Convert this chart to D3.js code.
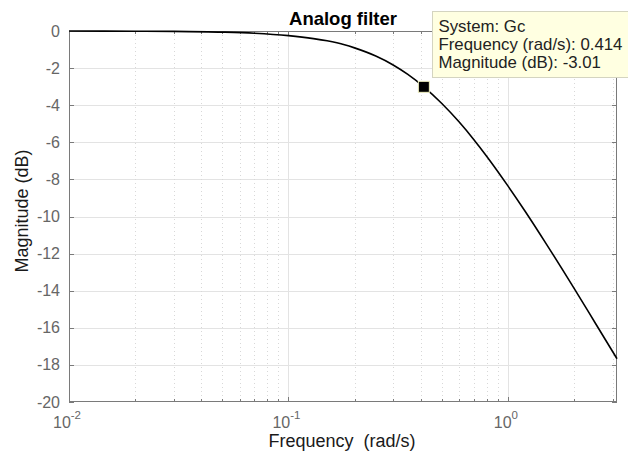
<!DOCTYPE html>
<html><head><meta charset="utf-8">
<script src="https://cdn.jsdelivr.net/npm/d3@7"></script>
<style>body{margin:0;background:#fff}svg{display:block}text{font-family:"Liberation Sans",Arial,sans-serif}</style>
</head><body><svg id="c" width="628" height="454"></svg>
<script>
// Data
const freq = [0.01,0.02,0.03,0.05,0.07,0.1,0.13,0.15,0.18,0.2,0.25,0.3,0.35,0.414,0.5,0.6,0.7,0.8,1.0,1.2,1.5,2.0,2.5,3.1416];
const magDb = [0,-0.01,-0.02,-0.06,-0.12,-0.25,-0.41,-0.53,-0.74,-0.91,-1.35,-1.83,-2.34,-3.01,-3.91,-4.91,-5.86,-6.75,-8.35,-9.73,-11.5,-13.86,-15.74,-17.67];
const yTicks = [0,-2,-4,-6,-8,-10,-12,-14,-16,-18,-20];
const xMajor = [0.01,0.1,1];
const xMajorExp = ["-2","-1","0"];
const tip = {f:0.414, m:-3.01, lines:["System: Gc","Frequency (rad/s): 0.414","Magnitude (dB): -3.01"]};
const title = "Analog filter", xLabel = "Frequency  (rad/s)", yLabel = "Magnitude (dB)";

const L=69,R=617,T=31,B=402;
const svg=d3.select("#c");
const x=d3.scaleLog().domain([0.01,Math.PI]).range([L,R]);
const y=d3.scaleLinear().domain([-20,0]).range([B,T]);

const minor=[];
for(const d of [0.01,0.1,1]) for(let k=2;k<=9;k++){const v=d*k; if(v<=Math.PI) minor.push(v);}

const g=svg.append("g");
g.selectAll(".ym").data(yTicks.filter(v=>v!==0&&v!==-20)).join("line")
 .attr("x1",L).attr("x2",R).attr("y1",d=>Math.round(y(d))+0.5).attr("y2",d=>Math.round(y(d))+0.5)
 .attr("stroke","#e3e3e3").attr("stroke-width",1);
g.selectAll(".xm").data(xMajor.filter(v=>v>0.01)).join("line")
 .attr("y1",T).attr("y2",B).attr("x1",d=>Math.round(x(d))+0.5).attr("x2",d=>Math.round(x(d))+0.5)
 .attr("stroke","#e3e3e3").attr("stroke-width",1);
g.selectAll(".xn").data(minor).join("line")
 .attr("y1",T).attr("y2",B).attr("x1",d=>Math.round(x(d))+0.5).attr("x2",d=>Math.round(x(d))+0.5)
 .attr("stroke","#d8d8d8").attr("stroke-width",1).attr("stroke-dasharray","1,3");

const axc="#7a7a7a";
g.append("rect").attr("x",L+0.5).attr("y",T+0.5).attr("width",R-L-1).attr("height",B-T-1)
 .attr("fill","none").attr("stroke",axc).attr("stroke-width",1);

const tl=5;
g.selectAll(".yt").data(yTicks).join("path")
 .attr("d",d=>`M${L},${Math.round(y(d))+0.5}h${tl}M${R},${Math.round(y(d))+0.5}h${-tl}`).attr("stroke",axc);
g.selectAll(".xt").data(xMajor).join("path")
 .attr("d",d=>{const p=Math.round(x(d))+0.5;return `M${p},${B}v${-tl}M${p},${T}v${tl}`;}).attr("stroke",axc);
g.selectAll(".xtn").data(minor).join("path")
 .attr("d",d=>{const p=Math.round(x(d))+0.5;return `M${p},${B}v${-3}M${p},${T}v${3}`;}).attr("stroke",axc);

g.selectAll(".yl").data(yTicks).join("text")
 .attr("x",L-9).attr("y",d=>y(d)+5.5).attr("text-anchor","end")
 .attr("font-size",16).attr("fill","#666").text(d=>d);
const xl=g.selectAll(".xl").data(xMajor).join("text")
 .attr("x",d=>x(d)-2).attr("y",B+26).attr("text-anchor","middle").attr("font-size",16).attr("fill","#666");
xl.append("tspan").text("10");
xl.append("tspan").attr("dy",-9).attr("font-size",11.5).text((d,i)=>xMajorExp[i]);

const line=d3.line().x((d,i)=>x(freq[i])).y((d,i)=>y(magDb[i])).curve(d3.curveMonotoneX);
g.append("path").datum(magDb).attr("d",line).attr("fill","none").attr("stroke","#000").attr("stroke-width",1.6);

svg.append("text").attr("x",343).attr("y",25).attr("text-anchor","middle")
 .attr("font-size",18.5).attr("font-weight","bold").attr("fill","#000").text(title);
svg.append("text").attr("x",342).attr("y",447).attr("text-anchor","middle")
 .attr("font-size",18).attr("fill","#1a1a1a").style("white-space","pre").text(xLabel);
svg.append("text").attr("transform",`translate(28,211) rotate(-90)`).attr("text-anchor","middle")
 .attr("font-size",18).attr("fill","#1a1a1a").text(yLabel);

const tx=x(tip.f), ty=y(tip.m);
svg.append("rect").attr("x",432.5).attr("y",11.5).attr("width",200).attr("height",66)
 .attr("fill","#ffffe1").attr("stroke","#d4d4c0");
const tt=svg.selectAll(".tp").data(tip.lines).join("text").attr("x",438.5).attr("y",(d,i)=>31.5+i*18.3)
 .attr("font-size",17).attr("fill","#222").text(d=>d);
// fit the widest line to the reference width (≈184px)
const w=tt.nodes()[1].getComputedTextLength();
const fs=Math.min(17.5,17*184/w);
tt.attr("font-size",fs);
svg.append("rect").attr("x",tx-5.5).attr("y",ty-5.5).attr("width",11).attr("height",11)
 .attr("fill","#000").attr("stroke","#f0f0c0").attr("stroke-width",1);
</script></body></html>
